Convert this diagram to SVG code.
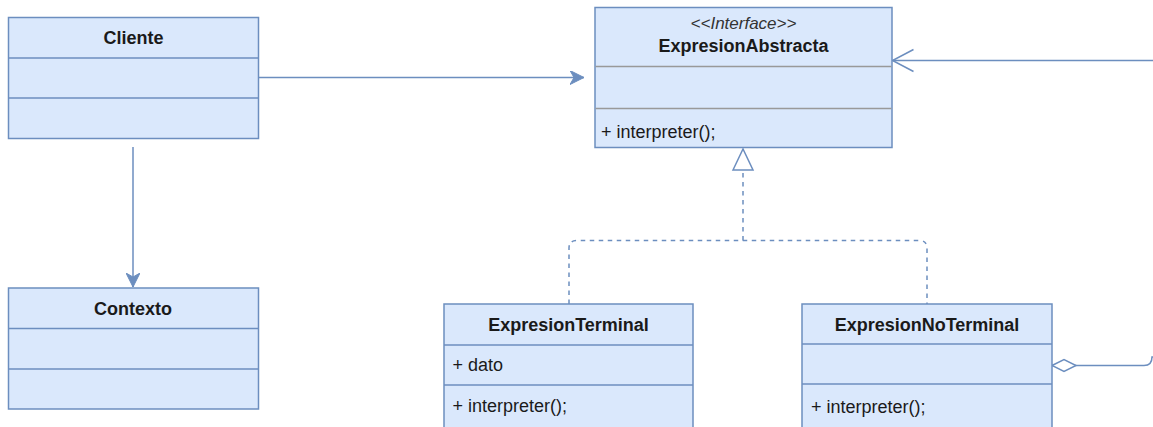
<svg xmlns="http://www.w3.org/2000/svg" width="1153" height="427" viewBox="0 0 1153 427">
<style>
.box{fill:#dae8fc;stroke:#6c8ebf;stroke-width:1.5}
.div{stroke:#6c8ebf;stroke-width:1.5}
.gdiv{stroke:#999999;stroke-width:1.5}
.t{font-family:"Liberation Sans",Arial,sans-serif;font-size:18px;fill:#1a1a1a}
.b{font-weight:bold;text-anchor:middle}
.i{font-style:italic;text-anchor:middle;font-size:17px;fill:#333}
.c{fill:none;stroke:#6c8ebf;stroke-width:1.5}
.d{stroke-dasharray:4.5 4.5}
</style>
<defs>
<marker id="classic" markerUnits="userSpaceOnUse" markerWidth="16" markerHeight="14" refX="14" refY="7" orient="auto">
<path d="M0,0 L14,7 L0,14 L4,7 Z" fill="#6c8ebf" stroke="#6c8ebf" stroke-width="1"/>
</marker>
<marker id="open" markerUnits="userSpaceOnUse" markerWidth="26" markerHeight="26" refX="22" refY="13" orient="auto">
<path d="M1,2 L22,13 L1,24" fill="none" stroke="#6c8ebf" stroke-width="1.5"/>
</marker>
<marker id="tri" markerUnits="userSpaceOnUse" markerWidth="26" markerHeight="26" refX="22" refY="13" orient="auto">
<path d="M1,3 L22,13 L1,23 Z" fill="#ffffff" stroke="#6c8ebf" stroke-width="1.5"/>
</marker>
<marker id="diamond" markerUnits="userSpaceOnUse" markerWidth="30" markerHeight="16" refX="1" refY="8" orient="auto">
<path d="M1,8 L13,2 L25,8 L13,14 Z" fill="#ffffff" stroke="#6c8ebf" stroke-width="1.5"/>
</marker>
</defs>

<g id="connectors">
<path class="c" d="M258,77.5 L584,77.5" marker-end="url(#classic)"/>
<path class="c" d="M133,147 L133,287" marker-end="url(#classic)"/>
<path class="c d" d="M569,304 L569,248 Q569,240.5 577,240.5 L919,240.5 Q927,240.5 927,248 L927,304"/>
<path class="c d" d="M743,240.5 L743,149" marker-end="url(#tri)"/>
<path class="c" d="M1052,365.5 L1144,365.5 Q1152,365.5 1152,357 L1160,357 L1160,60.5 L892.5,60.5" marker-start="url(#diamond)" marker-end="url(#open)"/>
</g>

<g id="cliente">
<rect class="box" x="8.5" y="17.5" width="250" height="121"/>
<line class="div" x1="8.5" y1="58" x2="258.5" y2="58"/>
<line class="div" x1="8.5" y1="98" x2="258.5" y2="98"/>
<text class="t b" x="133.5" y="44">Cliente</text>
</g>

<g id="contexto">
<rect class="box" x="8.5" y="288" width="250" height="121"/>
<line class="div" x1="8.5" y1="328.5" x2="258.5" y2="328.5"/>
<line class="div" x1="8.5" y1="369" x2="258.5" y2="369"/>
<text class="t b" x="133" y="315">Contexto</text>
</g>

<g id="expresionAbstracta">
<rect class="box" x="595" y="7.5" width="297" height="140"/>
<line class="gdiv" x1="595.5" y1="66.5" x2="891.5" y2="66.5"/>
<line class="gdiv" x1="595.5" y1="108.5" x2="891.5" y2="108.5"/>
<text class="t i" x="743.5" y="29">&lt;&lt;Interface&gt;&gt;</text>
<text class="t b" x="743.5" y="52">ExpresionAbstracta</text>
<text class="t" x="601" y="138">+ interpreter();</text>
</g>

<g id="expresionTerminal">
<rect class="box" x="444" y="304" width="249" height="140"/>
<line class="div" x1="444" y1="345" x2="693" y2="345"/>
<line class="div" x1="444" y1="385" x2="693" y2="385"/>
<text class="t b" x="568.5" y="331">ExpresionTerminal</text>
<text class="t" x="452.5" y="371">+ dato</text>
<text class="t" x="452.5" y="412">+ interpreter();</text>
</g>

<g id="expresionNoTerminal">
<rect class="box" x="802" y="304" width="250" height="140"/>
<line class="div" x1="802" y1="344" x2="1052" y2="344"/>
<line class="div" x1="802" y1="384" x2="1052" y2="384"/>
<text class="t b" x="927" y="331">ExpresionNoTerminal</text>
<text class="t" x="811" y="413">+ interpreter();</text>
</g>
</svg>
